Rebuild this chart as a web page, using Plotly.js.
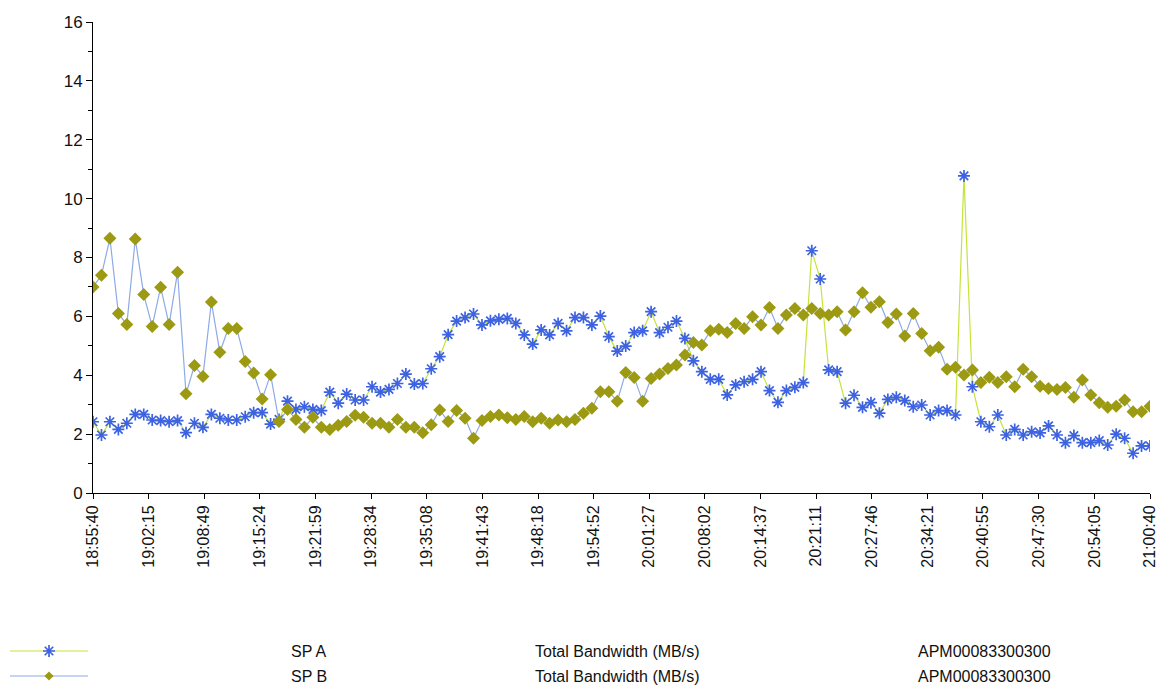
<!DOCTYPE html>
<html>
<head>
<meta charset="utf-8">
<script src="https://cdn.plot.ly/plotly-3.0.1.min.js"></script>
<style>
  html, body { margin: 0; padding: 0; background: #ffffff; }
  #chart { width: 1160px; height: 689px; }
</style>
</head>
<body>
<div id="chart"></div>
<script>
// Sampling: one reading per minute from 18:55:40 to 21:00:40
const startTime = '18:55:40';
const sampleSeconds = 60;

const tickLabels = [
  '18:55:40', '19:02:15', '19:08:49', '19:15:24', '19:21:59', '19:28:34', '19:35:08',
  '19:41:43', '19:48:18', '19:54:52', '20:01:27', '20:08:02', '20:14:37', '20:21:11',
  '20:27:46', '20:34:21', '20:40:55', '20:47:30', '20:54:05', '21:00:40'
];

const seriesNames = ['SP A', 'SP B'];
const metricName = 'Total Bandwidth (MB/s)';
const arrayName = 'APM00083300300';

// Total bandwidth (MB/s), storage processor A
const spA = [
  2.42, 1.97, 2.42, 2.16, 2.37, 2.67, 2.67, 2.48, 2.46, 2.42,
  2.46, 2.05, 2.37, 2.23, 2.67, 2.54, 2.48, 2.48, 2.59, 2.73,
  2.73, 2.34, 2.50, 3.12, 2.84, 2.93, 2.84, 2.80, 3.43, 3.05,
  3.36, 3.16, 3.16, 3.61, 3.43, 3.52, 3.72, 4.04, 3.70, 3.72,
  4.22, 4.63, 5.38, 5.84, 5.96, 6.08, 5.71, 5.85, 5.90, 5.93,
  5.76, 5.37, 5.06, 5.54, 5.37, 5.76, 5.51, 5.96, 5.96, 5.71,
  6.01, 5.31, 4.82, 4.99, 5.45, 5.51, 6.16, 5.45, 5.63, 5.84,
  5.25, 4.49, 4.12, 3.86, 3.86, 3.33, 3.67, 3.78, 3.86, 4.12,
  3.48, 3.08, 3.48, 3.59, 3.75, 8.23, 7.27, 4.18, 4.12, 3.05,
  3.32, 2.91, 3.07, 2.71, 3.18, 3.25, 3.14, 2.93, 2.99, 2.65,
  2.80, 2.80, 2.65, 10.77, 3.61, 2.42, 2.25, 2.65, 1.97, 2.16,
  1.97, 2.08, 2.04, 2.28, 1.97, 1.71, 1.95, 1.71, 1.71, 1.78,
  1.63, 2.00, 1.86, 1.35, 1.60, 1.60
];

// Total bandwidth (MB/s), storage processor B
const spB = [
  7.00, 7.40, 8.65, 6.10, 5.72, 8.63, 6.74, 5.66, 6.99, 5.72,
  7.50, 3.37, 4.33, 3.96, 6.49, 4.78, 5.59, 5.59, 4.47, 4.08,
  3.19, 4.02, 2.43, 2.84, 2.50, 2.23, 2.57, 2.23, 2.16, 2.30,
  2.43, 2.64, 2.57, 2.37, 2.37, 2.23, 2.50, 2.23, 2.23, 2.05,
  2.32, 2.82, 2.43, 2.80, 2.54, 1.86, 2.46, 2.60, 2.65, 2.56,
  2.50, 2.60, 2.42, 2.54, 2.37, 2.48, 2.42, 2.50, 2.71, 2.88,
  3.44, 3.44, 3.12, 4.09, 3.92, 3.12, 3.89, 4.04, 4.23, 4.35,
  4.69, 5.11, 5.03, 5.51, 5.56, 5.45, 5.76, 5.59, 5.99, 5.71,
  6.30, 5.59, 6.05, 6.27, 6.05, 6.27, 6.10, 6.05, 6.16, 5.54,
  6.16, 6.80, 6.31, 6.50, 5.79, 6.08, 5.33, 6.10, 5.42, 4.83,
  4.95, 4.20, 4.27, 4.01, 4.18, 3.75, 3.93, 3.75, 3.95, 3.61,
  4.20, 3.95, 3.63, 3.55, 3.52, 3.58, 3.25, 3.84, 3.33, 3.07,
  2.91, 2.95, 3.16, 2.76, 2.76, 2.95
];

// ---- helpers ---------------------------------------------------------------
const DAY = '2000-01-01 ';
function toSeconds(hms) {
  const p = hms.split(':').map(Number);
  return p[0] * 3600 + p[1] * 60 + p[2];
}
function toStamp(sec) {
  const pad = n => String(n).padStart(2, '0');
  const h = Math.floor(sec / 3600), m = Math.floor((sec % 3600) / 60), s = sec % 60;
  return DAY + pad(h) + ':' + pad(m) + ':' + pad(s);
}
const t0 = toSeconds(startTime);
const times = spA.map((_, i) => toStamp(t0 + i * sampleSeconds));
const tickVals = tickLabels.map(l => DAY + l);

// ---- styling ---------------------------------------------------------------
const FONT = 'Liberation Sans, Arial, Helvetica, sans-serif';
const colA = { line: '#c4e43a', marker: '#3d62e2' };
const colB = { line: '#8eaae6', marker: '#9c9a12' };
const markerA = { symbol: 'asterisk', size: 10, color: colA.marker, line: { color: colA.marker, width: 1.7 } };
const markerB = { symbol: 'diamond', size: 10, color: colB.marker, line: { width: 0 } };

const W = 1160, H = 689, ML = 0, MR = 10, MT = 22, MB = 0;
const PW = W - ML - MR, PH = H - MT - MB;

const traces = [
  { x: times, y: spA, name: seriesNames[0], type: 'scatter', mode: 'lines+markers',
    line: { color: colA.line, width: 1.2 }, marker: markerA, xaxis: 'x', yaxis: 'y' },
  { x: times, y: spB, name: seriesNames[1], type: 'scatter', mode: 'lines+markers',
    line: { color: colB.line, width: 1.2 }, marker: markerB, xaxis: 'x', yaxis: 'y' },
  // legend keys (line sample with the series marker in its middle)
  { x: [0, 1], y: [seriesNames[0], seriesNames[0]], mode: 'lines', line: { color: colA.line, width: 1.2 },
    xaxis: 'x2', yaxis: 'y2', hoverinfo: 'skip' },
  { x: [0.5], y: [seriesNames[0]], mode: 'markers', marker: markerA, xaxis: 'x2', yaxis: 'y2', hoverinfo: 'skip' },
  { x: [0, 1], y: [seriesNames[1], seriesNames[1]], mode: 'lines', line: { color: colB.line, width: 1.2 },
    xaxis: 'x2', yaxis: 'y2', hoverinfo: 'skip' },
  { x: [0.5], y: [seriesNames[1]], mode: 'markers', marker: Object.assign({}, markerB, { size: 7 }),
    xaxis: 'x2', yaxis: 'y2', hoverinfo: 'skip' }
];

// legend rows as text columns (centre of each column, in px)
const legendFont = { family: FONT, size: 16, color: '#111' };
const annotations = [];
seriesNames.forEach(name => {
  [[309, name], [617, metricName], [984, arrayName]].forEach(([cx, txt]) => {
    annotations.push({ xref: 'paper', yref: 'y2', x: cx / PW, y: name, text: txt,
      xanchor: 'center', yanchor: 'middle', showarrow: false, font: legendFont });
  });
});

const layout = {
  width: W, height: H,
  margin: { l: ML, r: MR, t: MT, b: MB, pad: 0 },
  paper_bgcolor: '#ffffff', plot_bgcolor: '#ffffff',
  showlegend: false,
  font: { family: FONT, size: 14, color: '#111' },
  xaxis: {
    type: 'date', domain: [93 / PW, 1],
    range: [times[0], times[times.length - 1]],
    tickmode: 'array', tickvals: tickVals, ticktext: tickLabels,
    tickangle: -90, ticks: 'outside', ticklen: 5, tickcolor: '#000', tickwidth: 1,
    showline: true, linecolor: '#000', linewidth: 1,
    showgrid: false, zeroline: false,
    tickfont: { family: FONT, size: 16, color: '#111' },
    anchor: 'y', fixedrange: true
  },
  yaxis: {
    domain: [(H - MB - 493) / PH, 1],
    range: [0, 16], dtick: 2, tick0: 0,
    ticks: 'outside', ticklen: 6, tickcolor: '#000', tickwidth: 1,
    minor: { dtick: 1, ticks: 'outside', ticklen: 4, tickcolor: '#000', showgrid: false },
    showline: true, linecolor: '#000', linewidth: 1,
    showgrid: false, zeroline: false,
    tickfont: { family: FONT, size: 17, color: '#111' },
    anchor: 'x', fixedrange: true
  },
  xaxis2: { domain: [10 / PW, 88 / PW], range: [0, 1], visible: false, anchor: 'y2', fixedrange: true },
  yaxis2: { domain: [0, 60 / PH], type: 'category', categoryarray: [seriesNames[1], seriesNames[0]],
    categoryorder: 'array', range: [-0.52, 1.88], visible: false, anchor: 'x2', fixedrange: true },
  annotations: annotations
};

Plotly.newPlot('chart', traces, layout, { displayModeBar: false, staticPlot: true });
</script>
</body>
</html>
